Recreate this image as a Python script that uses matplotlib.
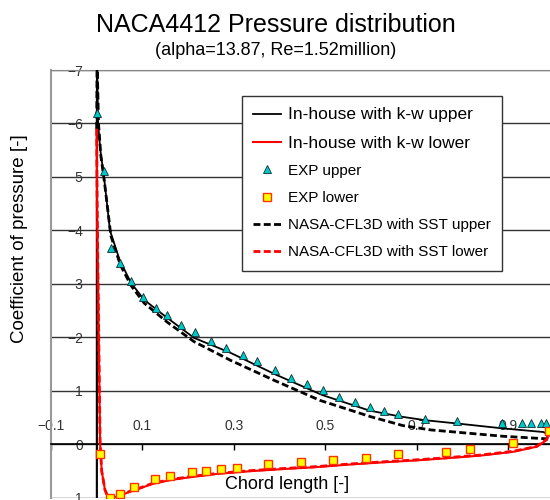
import matplotlib
matplotlib.use('Agg')
import matplotlib.pyplot as plt

plt.rcParams['font.family'] = ['Liberation Sans', 'DejaVu Sans']

# In-house k-w, upper surface
up_x = [0.0, 0.0, 0.0005, 0.003, 0.008, 0.016, 0.029, 0.050, 0.075, 0.104, 0.155, 0.213,
        0.293, 0.390, 0.494, 0.597, 0.664, 0.719, 0.788, 0.886, 0.977, 0.990, 1.0]
up_cp = [1.05, -5.9, -7.3, -6.0, -5.5, -5.0, -4.0, -3.45, -3.02, -2.70, -2.36, -1.99,
         -1.71, -1.31, -0.92, -0.63, -0.52, -0.45, -0.39, -0.30, -0.23, -0.17, -0.10]

# In-house k-w, lower surface
lo_x = [0.0, 0.001, 0.003, 0.0075, 0.011, 0.018, 0.026, 0.040, 0.053, 0.075, 0.096, 0.122,
        0.160, 0.200, 0.267, 0.340, 0.413, 0.475, 0.550, 0.620, 0.700, 0.766, 0.840, 0.911,
        0.962, 0.984, 0.991, 1.0]
lo_cp = [-5.9, -4.5, -3.0, 0.0, 0.5, 0.85, 1.02, 0.99, 0.95, 0.88, 0.82, 0.74,
         0.67, 0.62, 0.55, 0.50, 0.46, 0.43, 0.38, 0.34, 0.30, 0.26, 0.21, 0.14,
         0.045, -0.08, -0.27, -0.45]

# experiment
exp_up_x = [0.000, 0.016, 0.031, 0.050, 0.076, 0.101, 0.129, 0.153, 0.184, 0.215, 0.249,
            0.283, 0.320, 0.351, 0.390, 0.425, 0.460, 0.494, 0.529, 0.566, 0.597, 0.628,
            0.659, 0.719, 0.788, 0.886, 0.931, 0.950, 0.972, 0.983]
exp_up_cp = [-6.20, -5.11, -3.67, -3.40, -3.06, -2.76, -2.555, -2.42, -2.23, -2.095, -1.94,
             -1.81, -1.67, -1.56, -1.39, -1.245, -1.13, -1.01, -0.885, -0.79, -0.70, -0.63,
             -0.57, -0.48, -0.43, -0.39, -0.40, -0.40, -0.39, -0.39]
exp_lo_x = [0.0074, 0.029, 0.051, 0.082, 0.128, 0.160, 0.208, 0.240, 0.271, 0.306, 0.375,
            0.446, 0.516, 0.588, 0.658, 0.764, 0.817, 0.910, 0.990]
exp_lo_cp = [0.18, 1.01, 0.92, 0.80, 0.65, 0.59, 0.52, 0.49, 0.46, 0.44, 0.37,
             0.325, 0.29, 0.25, 0.19, 0.138, 0.094, -0.02, -0.25]

# NASA CFL3D SST
nasa_up_x = [0.0, 0.0008, 0.004, 0.009, 0.017, 0.031, 0.052, 0.075, 0.104, 0.155,
             0.213, 0.293, 0.390, 0.489, 0.598, 0.670, 0.730, 0.810, 0.890, 0.970, 0.990, 1.0]
nasa_up_cp = [-5.9, -7.2, -6.0, -5.4, -4.9, -3.9, -3.35, -2.97, -2.64, -2.28,
              -1.92, -1.57, -1.19, -0.82, -0.52, -0.35, -0.27, -0.21, -0.15, -0.11, -0.10, -0.10]
nasa_lo_x = [0.0, 0.001, 0.003, 0.0075, 0.011, 0.018, 0.026, 0.040, 0.053, 0.075, 0.096, 0.122,
             0.160, 0.200, 0.267, 0.340, 0.413, 0.475, 0.550, 0.620, 0.700, 0.766, 0.840, 0.911,
             0.962, 0.984, 0.991, 1.0]
nasa_lo_cp = [-5.9, -4.5, -3.0, 0.0, 0.5, 0.85, 1.01, 0.98, 0.94, 0.87, 0.81, 0.73,
              0.66, 0.61, 0.54, 0.49, 0.45, 0.42, 0.37, 0.33, 0.29, 0.25, 0.20, 0.13,
              0.04, -0.09, -0.28, -0.45]

xticks = [-0.1, 0.1, 0.3, 0.5, 0.7, 0.9]
xtick_labels = ['\u22120.1', '0.1', '0.3', '0.5', '0.7', '0.9']
yticks = [-7, -6, -5, -4, -3, -2, -1, 0, 1]
ytick_labels = ['\u22127', '\u22126', '\u22125', '\u22124', '\u22123', '\u22122', '\u22121', '0', '1']

fig = plt.figure(figsize=(5.5, 5), dpi=100)
ax = fig.add_axes([0.0927, 0.0044, 0.9073, 0.8556])

ax.plot(up_x, up_cp, color='black', lw=1.3, label='In-house with k-w upper', zorder=3)
ax.plot(lo_x, lo_cp, color='#FF0000', lw=1.5, label='In-house with k-w lower', zorder=3)
ax.plot(exp_up_x, exp_up_cp, ls='none', marker='^', ms=5.5, mfc='#00C8C8', mec='#103030',
        mew=0.6, label='EXP upper', zorder=5)
ax.plot(exp_lo_x, exp_lo_cp, ls='none', marker='s', ms=5.5, mfc='#FFFF00', mec='#FF3300',
        mew=1.0, label='EXP lower', zorder=5)
ax.plot(nasa_up_x, nasa_up_cp, color='black', lw=2, ls=(0, (2.5, 1.2)),
        label='NASA-CFL3D with SST upper', zorder=4)
ax.plot(nasa_lo_x, nasa_lo_cp, color='#FF0000', lw=2, ls=(0, (2.5, 1.2)),
        label='NASA-CFL3D with SST lower', zorder=4)

ax.set_xlim(-0.1, 0.9915)
ax.set_ylim(1, -7)

ax.set_yticks(yticks)
ax.set_yticklabels(ytick_labels)
ax.set_xticks(xticks)
ax.set_xticklabels(xtick_labels)
ax.yaxis.grid(True, color='#333333', lw=1)
ax.set_axisbelow(True)

# excel-like axes: x axis at Cp=0, vertical axis at x=0
ax.spines['bottom'].set_position(('data', 0))
ax.spines['bottom'].set_color('black')
ax.spines['bottom'].set_linewidth(1.2)
ax.spines['left'].set_color('#999999')
ax.spines['left'].set_linewidth(1.5)
ax.spines['top'].set_color('#888888')
ax.spines['right'].set_visible(False)
ax.axvline(0, color='black', lw=1.2, zorder=2)

ax.tick_params(axis='y', length=0, pad=-23, labelcolor='#333333', labelsize=10)
ax.tick_params(axis='x', direction='out', length=4, width=1, color='black', pad=-22,
               labelcolor='#333333', labelsize=10)

ax.set_ylabel('Coefficient of pressure [-]', fontsize=13.5)
ax.yaxis.set_label_coords(-0.046, 0.607)
ax.set_xlabel('Chord length [-]', fontsize=13)
ax.xaxis.set_label_coords(0.473, 0.051)

fig.text(0.502, 1 - 32 / 500, 'NACA4412 Pressure distribution', ha='center', va='baseline', fontsize=18)
fig.text(0.502, 1 - 55 / 500, '(alpha=13.87, Re=1.52million)', ha='center', va='baseline', fontsize=13)

leg = ax.legend(loc='upper left', bbox_to_anchor=(242 / 550, 1 - 96 / 500), bbox_transform=fig.transFigure,
                borderaxespad=0, fontsize=11, frameon=True, fancybox=False, edgecolor='#333333',
                framealpha=1, borderpad=0.75, labelspacing=0.86, handlelength=1.8, handletextpad=0.45)
leg.get_frame().set_linewidth(1.0)
for t in leg.get_texts()[:2]:
    t.set_fontsize(12.5)

fig.savefig('out.png', dpi=100)
